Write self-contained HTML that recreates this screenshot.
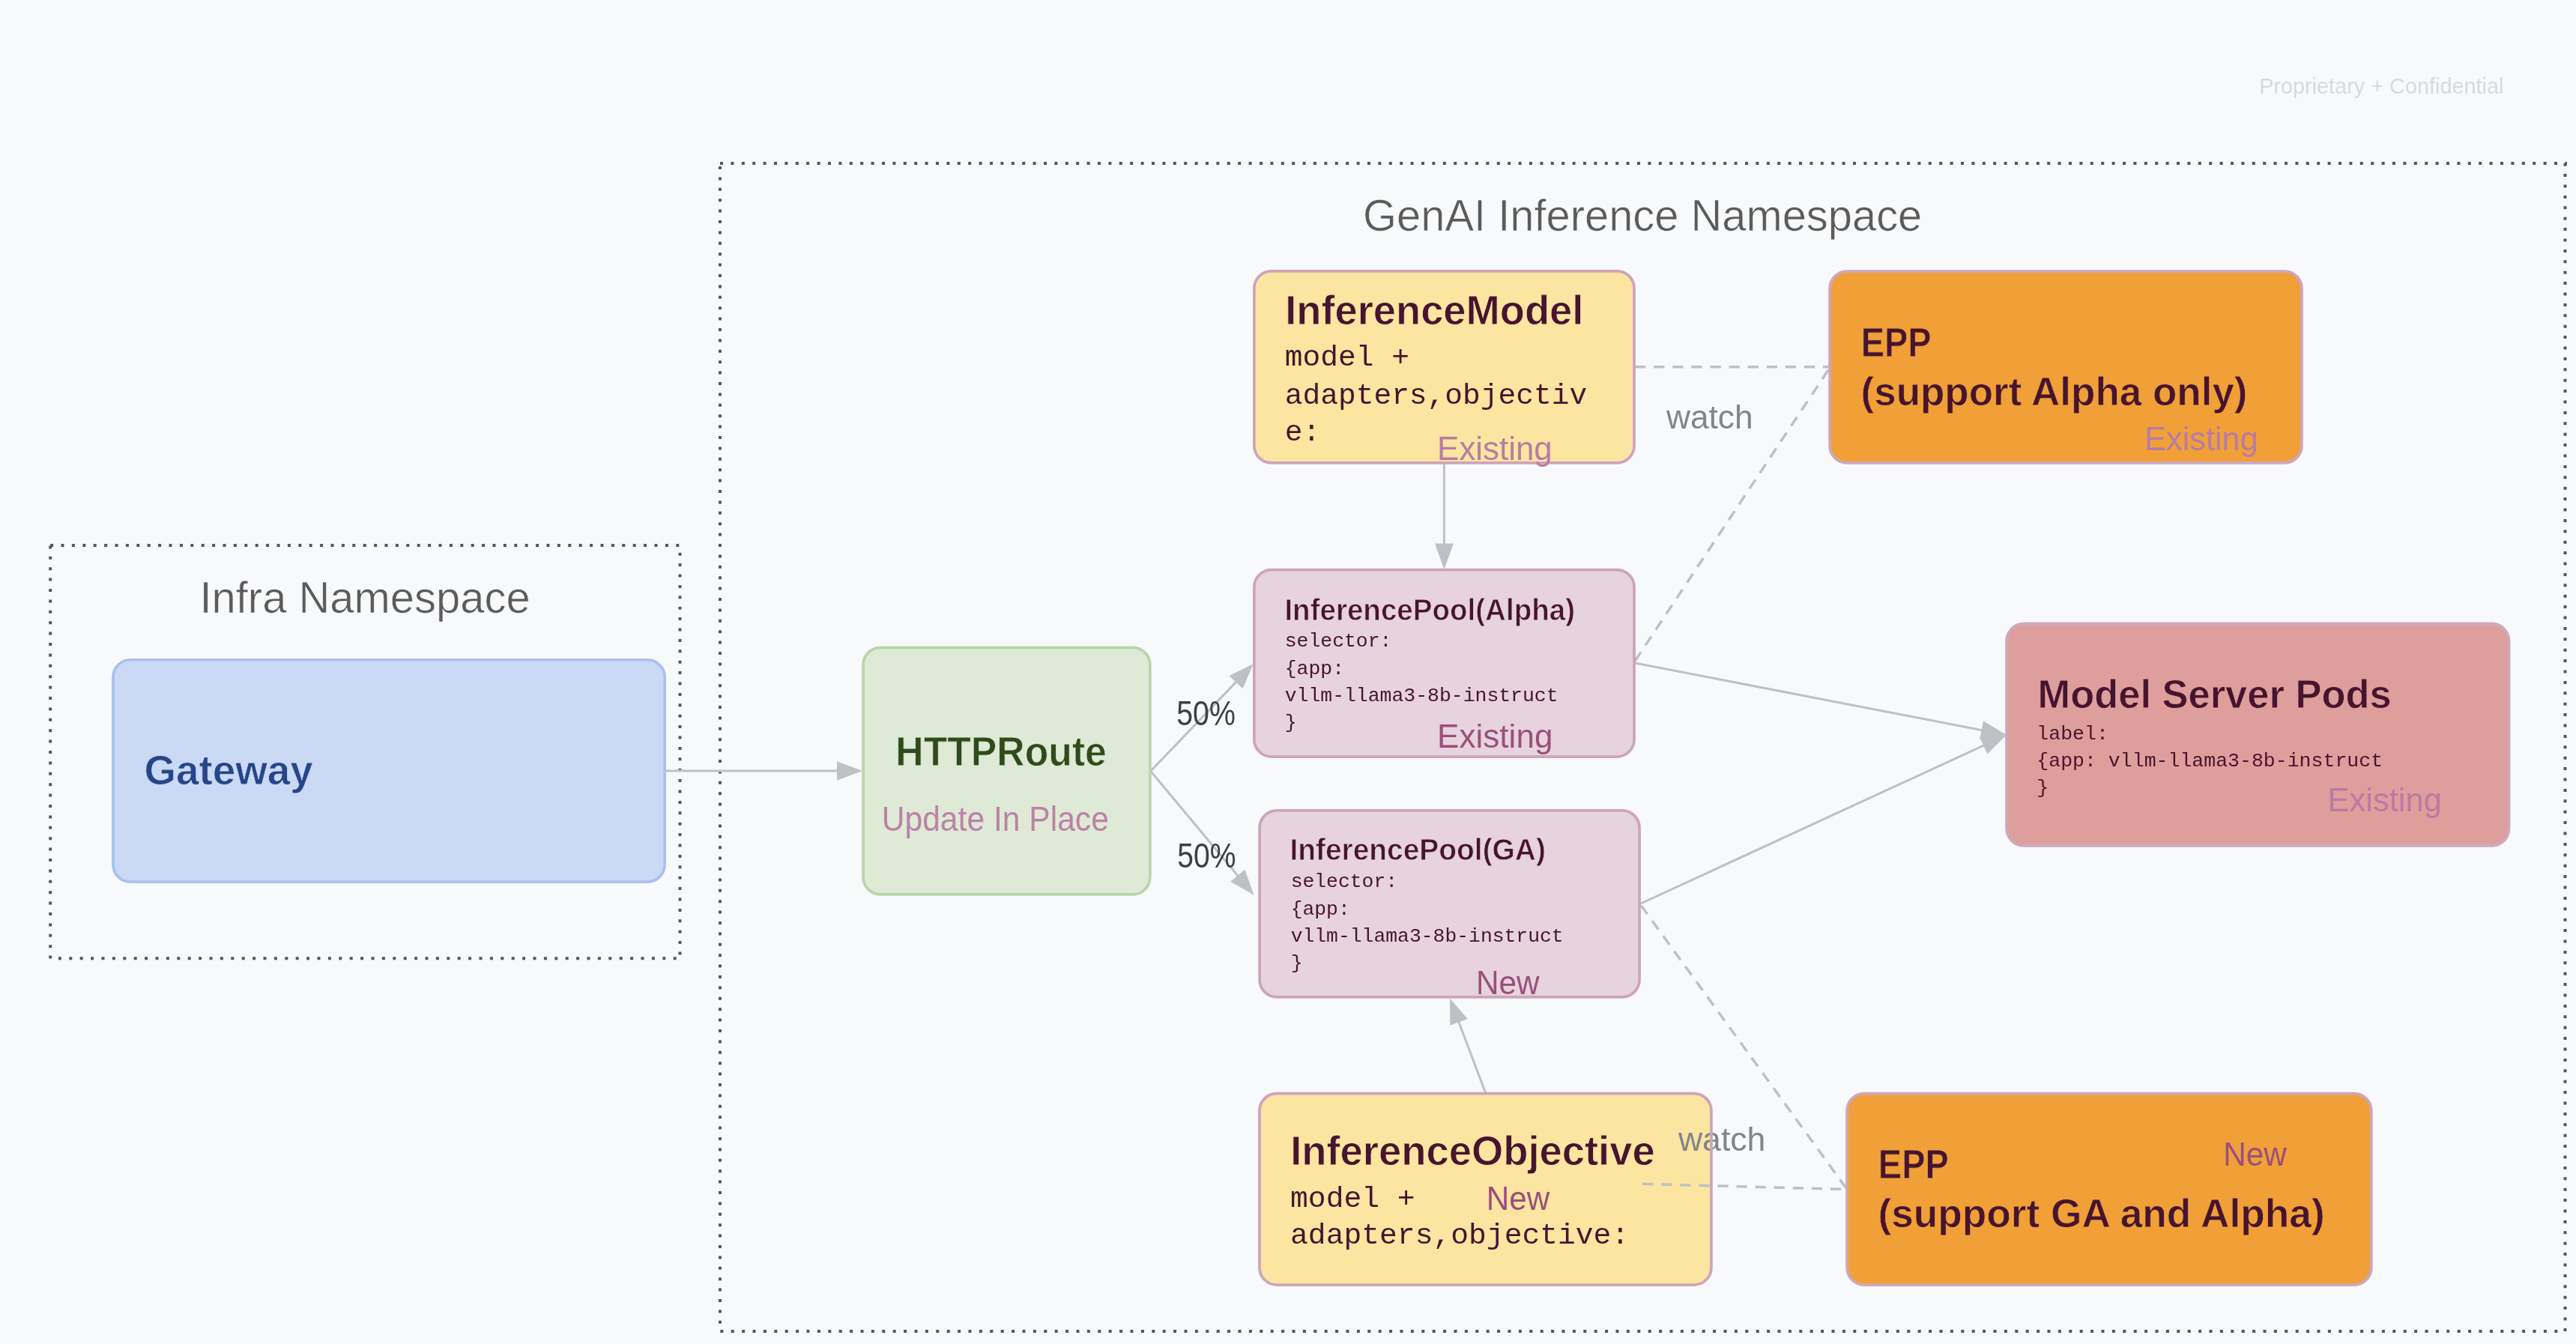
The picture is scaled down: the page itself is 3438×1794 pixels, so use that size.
<!DOCTYPE html>
<html><head><meta charset="utf-8"><style>
html,body{margin:0;padding:0;width:3438px;height:1794px;overflow:hidden;background:#f8f9fa;}
</style></head><body>
<svg width="3438" height="1794" viewBox="0 0 3438 1794" style="position:absolute;left:0;top:0;will-change:transform">
<rect x="0" y="0" width="3438" height="1794" fill="#f8f9fa"/>
<line x1="67.10" y1="728.00" x2="910.00" y2="728.00" stroke="#575757" stroke-width="4" stroke-dasharray="4 10.4"/>
<line x1="67.20" y1="728.40" x2="67.20" y2="1282.00" stroke="#575757" stroke-width="4" stroke-dasharray="4 10.4"/>
<line x1="907.50" y1="737.70" x2="907.50" y2="1282.00" stroke="#575757" stroke-width="4" stroke-dasharray="4 10.4"/>
<line x1="77.90" y1="1279.20" x2="910.00" y2="1279.20" stroke="#575757" stroke-width="4" stroke-dasharray="4 10.4"/>
<line x1="961.00" y1="218.00" x2="3426.00" y2="218.00" stroke="#575757" stroke-width="4" stroke-dasharray="4 10.4"/>
<line x1="961.00" y1="222.00" x2="961.00" y2="1770.00" stroke="#575757" stroke-width="4" stroke-dasharray="4 10.4"/>
<line x1="3423.50" y1="217.70" x2="3423.50" y2="1780.00" stroke="#575757" stroke-width="4" stroke-dasharray="4 10.4"/>
<line x1="961.30" y1="1777.00" x2="3420.00" y2="1777.00" stroke="#575757" stroke-width="4" stroke-dasharray="4 10.4"/>
<text id="prop" x="3015.13" y="124.90" font-family='"Liberation Sans", sans-serif' font-size="30.23" font-weight="normal" fill="#d8d9da" textLength="326.25" lengthAdjust="spacingAndGlyphs">Proprietary + Confidential</text>
<text id="genai" x="1819.06" y="307.80" font-family='"Liberation Sans", sans-serif' font-size="59.74" font-weight="normal" fill="#5b5b5b" stroke="#f8f9fa" stroke-width="0.6" textLength="746.21" lengthAdjust="spacingAndGlyphs">GenAI Inference Namespace</text>
<text id="infra" x="266.42" y="817.80" font-family='"Liberation Sans", sans-serif' font-size="59.74" font-weight="normal" fill="#5b5b5b" stroke="#f8f9fa" stroke-width="0.6" textLength="441.29" lengthAdjust="spacingAndGlyphs">Infra Namespace</text>
<line x1="889.00" y1="1029.00" x2="1119.00" y2="1029.00" stroke="#bdc1c6" stroke-width="3"/>
<polygon points="1151.0,1029.0 1117.0,1041.7 1117.0,1016.3" fill="#bdc1c6"/>
<line x1="1536.00" y1="1029.00" x2="1650.86" y2="909.11" stroke="#bdc1c6" stroke-width="3"/>
<polygon points="1673.0,886.0 1658.5,919.2 1640.5,901.9" fill="#bdc1c6"/>
<line x1="1535.30" y1="1028.80" x2="1653.03" y2="1170.21" stroke="#bdc1c6" stroke-width="3"/>
<polygon points="1673.5,1194.8 1642.1,1176.7 1661.4,1160.7" fill="#bdc1c6"/>
<line x1="1927.40" y1="619.00" x2="1927.40" y2="727.50" stroke="#bdc1c6" stroke-width="3"/>
<polygon points="1927.4,760.0 1914.9,725.5 1939.9,725.5" fill="#bdc1c6"/>
<line x1="1982.60" y1="1458.60" x2="1946.30" y2="1362.44" stroke="#bdc1c6" stroke-width="3"/>
<polygon points="1935.0,1332.5 1958.7,1359.9 1935.3,1368.7" fill="#bdc1c6"/>
<line x1="2182.00" y1="885.00" x2="2646.58" y2="974.92" stroke="#bdc1c6" stroke-width="3"/>
<polygon points="2678.0,981.0 2642.2,986.8 2647.0,962.3" fill="#bdc1c6"/>
<line x1="2190.00" y1="1206.00" x2="2648.94" y2="994.40" stroke="#bdc1c6" stroke-width="3"/>
<polygon points="2678.0,981.0 2652.4,1006.6 2641.9,983.9" fill="#bdc1c6"/>
<line x1="2182.00" y1="489.80" x2="2441.00" y2="489.80" stroke="#bdc1c6" stroke-width="3.5" stroke-dasharray="14.3 10.8"/>
<line x1="2440.00" y1="494.00" x2="2181.00" y2="884.00" stroke="#bdc1c6" stroke-width="3.5" stroke-dasharray="14.3 10.8"/>
<line x1="2464.00" y1="1586.00" x2="2189.00" y2="1207.00" stroke="#bdc1c6" stroke-width="3.5" stroke-dasharray="14.3 10.8"/>
<rect x="150.95" y="880.75" width="736.20" height="296.40" rx="23.15" ry="23.15" fill="#cad9f4" stroke="#a8c0ef" stroke-width="3.7"/>
<text id="gateway" x="192.47" y="1046.80" font-family='"Liberation Sans", sans-serif' font-size="54.94" font-weight="bold" fill="#26468a" stroke="#cad9f4" stroke-width="0.8" textLength="225.29" lengthAdjust="spacingAndGlyphs">Gateway</text>
<rect x="1152.05" y="864.35" width="382.80" height="329.60" rx="23.15" ry="23.15" fill="#deead6" stroke="#b9d6a9" stroke-width="3.7"/>
<text id="httproute" x="1195.32" y="1021.85" font-family='"Liberation Sans", sans-serif' font-size="54.87" font-weight="bold" fill="#2e4b1c" stroke="#deead6" stroke-width="0.8" textLength="281.56" lengthAdjust="spacingAndGlyphs">HTTPRoute</text>
<text id="update" x="1176.70" y="1108.75" font-family='"Liberation Sans", sans-serif' font-size="45.42" font-weight="normal" fill="#bd82a6" textLength="303.18" lengthAdjust="spacingAndGlyphs">Update In Place</text>
<text id="p50a" x="1570.21" y="967.50" font-family='"Liberation Sans", sans-serif' font-size="45.42" font-weight="normal" fill="#3c4043" textLength="78.68" lengthAdjust="spacingAndGlyphs">50%</text>
<text id="p50b" x="1571.23" y="1158.00" font-family='"Liberation Sans", sans-serif' font-size="45.42" font-weight="normal" fill="#3c4043" textLength="78.17" lengthAdjust="spacingAndGlyphs">50%</text>
<rect x="1673.85" y="361.85" width="507.20" height="256.10" rx="23.15" ry="23.15" fill="#fbe5a0" stroke="#cda4bb" stroke-width="3.7"/>
<text id="imtitle" x="1715.16" y="432.80" font-family='"Liberation Sans", sans-serif' font-size="54.65" font-weight="bold" fill="#47142f" stroke="#fbe5a0" stroke-width="0.8" textLength="398.17" lengthAdjust="spacingAndGlyphs">InferenceModel</text>
<text x="1714.74" y="488.00" font-family='"Liberation Mono", monospace' font-size="39.550" fill="#47142f" xml:space="preserve">model +</text>
<text id="mim" x="1714.74" y="538.50" font-family='"Liberation Mono", monospace' font-size="39.550" fill="#47142f" xml:space="preserve">adapters,objectiv</text>
<text x="1714.74" y="588.20" font-family='"Liberation Mono", monospace' font-size="39.550" fill="#47142f" xml:space="preserve">e:</text>
<text id="imexist" x="1918.11" y="613.75" font-family='"Liberation Sans", sans-serif' font-size="43.90" font-weight="normal" fill="#b87ca4" textLength="153.67" lengthAdjust="spacingAndGlyphs">Existing</text>
<text id="watch1" x="2224.06" y="571.90" font-family='"Liberation Sans", sans-serif' font-size="44.48" font-weight="normal" fill="#80868b" textLength="115.52" lengthAdjust="spacingAndGlyphs">watch</text>
<rect x="1673.85" y="760.65" width="507.20" height="249.40" rx="23.15" ry="23.15" fill="#e7d3dd" stroke="#cda4bb" stroke-width="3.7"/>
<text id="alphatitle" x="1714.41" y="827.50" font-family='"Liberation Sans", sans-serif' font-size="39.97" font-weight="bold" fill="#47142f" stroke="#e7d3dd" stroke-width="0.8" textLength="387.61" lengthAdjust="spacingAndGlyphs">InferencePool(Alpha)</text>
<text x="1714.68" y="863.40" font-family='"Liberation Mono", monospace' font-size="26.456" fill="#47142f" xml:space="preserve">selector:</text>
<text x="1714.68" y="899.60" font-family='"Liberation Mono", monospace' font-size="26.456" fill="#47142f" xml:space="preserve">{app:</text>
<text id="mal" x="1714.68" y="935.80" font-family='"Liberation Mono", monospace' font-size="26.456" fill="#47142f" xml:space="preserve">vllm-llama3-8b-instruct</text>
<text x="1714.68" y="972.00" font-family='"Liberation Mono", monospace' font-size="26.456" fill="#47142f" xml:space="preserve">}</text>
<text id="alphaexist" x="1918.10" y="997.50" font-family='"Liberation Sans", sans-serif' font-size="43.90" font-weight="normal" fill="#9c4f7b" textLength="154.32" lengthAdjust="spacingAndGlyphs">Existing</text>
<rect x="1681.15" y="1081.85" width="506.90" height="249.10" rx="23.15" ry="23.15" fill="#e7d3dd" stroke="#cda4bb" stroke-width="3.7"/>
<text id="gatitle" x="1721.39" y="1148.00" font-family='"Liberation Sans", sans-serif' font-size="39.97" font-weight="bold" fill="#47142f" stroke="#e7d3dd" stroke-width="0.8" textLength="341.56" lengthAdjust="spacingAndGlyphs">InferencePool(GA)</text>
<text x="1722.65" y="1184.30" font-family='"Liberation Mono", monospace' font-size="26.396" fill="#47142f" xml:space="preserve">selector:</text>
<text x="1722.65" y="1220.50" font-family='"Liberation Mono", monospace' font-size="26.396" fill="#47142f" xml:space="preserve">{app:</text>
<text id="mga" x="1722.65" y="1256.50" font-family='"Liberation Mono", monospace' font-size="26.396" fill="#47142f" xml:space="preserve">vllm-llama3-8b-instruct</text>
<text x="1722.65" y="1292.70" font-family='"Liberation Mono", monospace' font-size="26.396" fill="#47142f" xml:space="preserve">}</text>
<text id="ganew" x="1969.89" y="1326.80" font-family='"Liberation Sans", sans-serif' font-size="43.90" font-weight="normal" fill="#9c4f7b" textLength="84.60" lengthAdjust="spacingAndGlyphs">New</text>
<rect x="1680.95" y="1459.65" width="603.00" height="255.40" rx="23.15" ry="23.15" fill="#fbe5a0" stroke="none" stroke-width="3.7"/>
<text id="iotitle" x="1722.15" y="1554.70" font-family='"Liberation Sans", sans-serif' font-size="54.65" font-weight="bold" fill="#47142f" stroke="#fbe5a0" stroke-width="0.8" textLength="486.52" lengthAdjust="spacingAndGlyphs">InferenceObjective</text>
<text x="1722.07" y="1610.80" font-family='"Liberation Mono", monospace' font-size="39.677" fill="#47142f" xml:space="preserve">model +</text>
<text id="mio" x="1722.07" y="1660.40" font-family='"Liberation Mono", monospace' font-size="39.677" fill="#47142f" xml:space="preserve">adapters,objective:</text>
<text id="ionew" x="1983.68" y="1614.80" font-family='"Liberation Sans", sans-serif' font-size="44.19" font-weight="normal" fill="#9c4f7b" textLength="84.53" lengthAdjust="spacingAndGlyphs">New</text>
<text id="watch2" x="2239.92" y="1536.20" font-family='"Liberation Sans", sans-serif' font-size="44.48" font-weight="normal" fill="#80868b" textLength="116.52" lengthAdjust="spacingAndGlyphs">watch</text>
<line x1="2192.00" y1="1580.30" x2="2463.00" y2="1587.50" stroke="#bdc1c6" stroke-width="3.5" stroke-dasharray="14.3 10.8"/>
<rect x="1680.95" y="1459.65" width="603.00" height="255.40" rx="23.15" ry="23.15" fill="none" stroke="#cda4bb" stroke-width="3.7"/>
<rect x="2442.05" y="362.05" width="630.00" height="255.90" rx="23.15" ry="23.15" fill="#f0a037" stroke="#cca7c1" stroke-width="3.7"/>
<text id="epp1" x="2483.66" y="476.00" font-family='"Liberation Sans", sans-serif' font-size="55.23" font-weight="bold" fill="#47142f" stroke="#f0a037" stroke-width="0.8" textLength="94.04" lengthAdjust="spacingAndGlyphs">EPP</text>
<text id="epp1b" x="2483.54" y="540.90" font-family='"Liberation Sans", sans-serif' font-size="54.51" font-weight="bold" fill="#47142f" stroke="#f0a037" stroke-width="0.8" textLength="515.98" lengthAdjust="spacingAndGlyphs">(support Alpha only)</text>
<text id="epp1exist" x="2862.15" y="600.80" font-family='"Liberation Sans", sans-serif' font-size="44.33" font-weight="normal" fill="#b87ca4" textLength="151.65" lengthAdjust="spacingAndGlyphs">Existing</text>
<rect x="2465.05" y="1459.65" width="699.80" height="255.60" rx="23.15" ry="23.15" fill="#f0a037" stroke="#cca7c1" stroke-width="3.7"/>
<text id="epp2" x="2506.86" y="1572.90" font-family='"Liberation Sans", sans-serif' font-size="55.09" font-weight="bold" fill="#47142f" stroke="#f0a037" stroke-width="0.8" textLength="93.87" lengthAdjust="spacingAndGlyphs">EPP</text>
<text id="epp2b" x="2506.48" y="1637.60" font-family='"Liberation Sans", sans-serif' font-size="54.51" font-weight="bold" fill="#47142f" stroke="#f0a037" stroke-width="0.8" textLength="596.20" lengthAdjust="spacingAndGlyphs">(support GA and Alpha)</text>
<text id="epp2new" x="2967.16" y="1555.80" font-family='"Liberation Sans", sans-serif' font-size="44.19" font-weight="normal" fill="#9c4f7b" textLength="84.77" lengthAdjust="spacingAndGlyphs">New</text>
<rect x="2678.05" y="832.45" width="670.50" height="296.50" rx="23.15" ry="23.15" fill="#de9e9b" stroke="#cda8bd" stroke-width="3.7"/>
<text id="msptitle" x="2719.49" y="944.90" font-family='"Liberation Sans", sans-serif' font-size="54.51" font-weight="bold" fill="#47142f" stroke="#de9e9b" stroke-width="0.8" textLength="472.20" lengthAdjust="spacingAndGlyphs">Model Server Pods</text>
<text x="2718.35" y="986.50" font-family='"Liberation Mono", monospace' font-size="26.540" fill="#47142f" xml:space="preserve">label:</text>
<text id="msp" x="2718.35" y="1022.60" font-family='"Liberation Mono", monospace' font-size="26.540" fill="#47142f" xml:space="preserve">{app: vllm-llama3-8b-instruct</text>
<text x="2718.35" y="1058.80" font-family='"Liberation Mono", monospace' font-size="26.540" fill="#47142f" xml:space="preserve">}</text>
<text id="mspexist" x="3106.41" y="1083.00" font-family='"Liberation Sans", sans-serif' font-size="44.33" font-weight="normal" fill="#b87ca4" textLength="152.50" lengthAdjust="spacingAndGlyphs">Existing</text>
</svg>
</body></html>
